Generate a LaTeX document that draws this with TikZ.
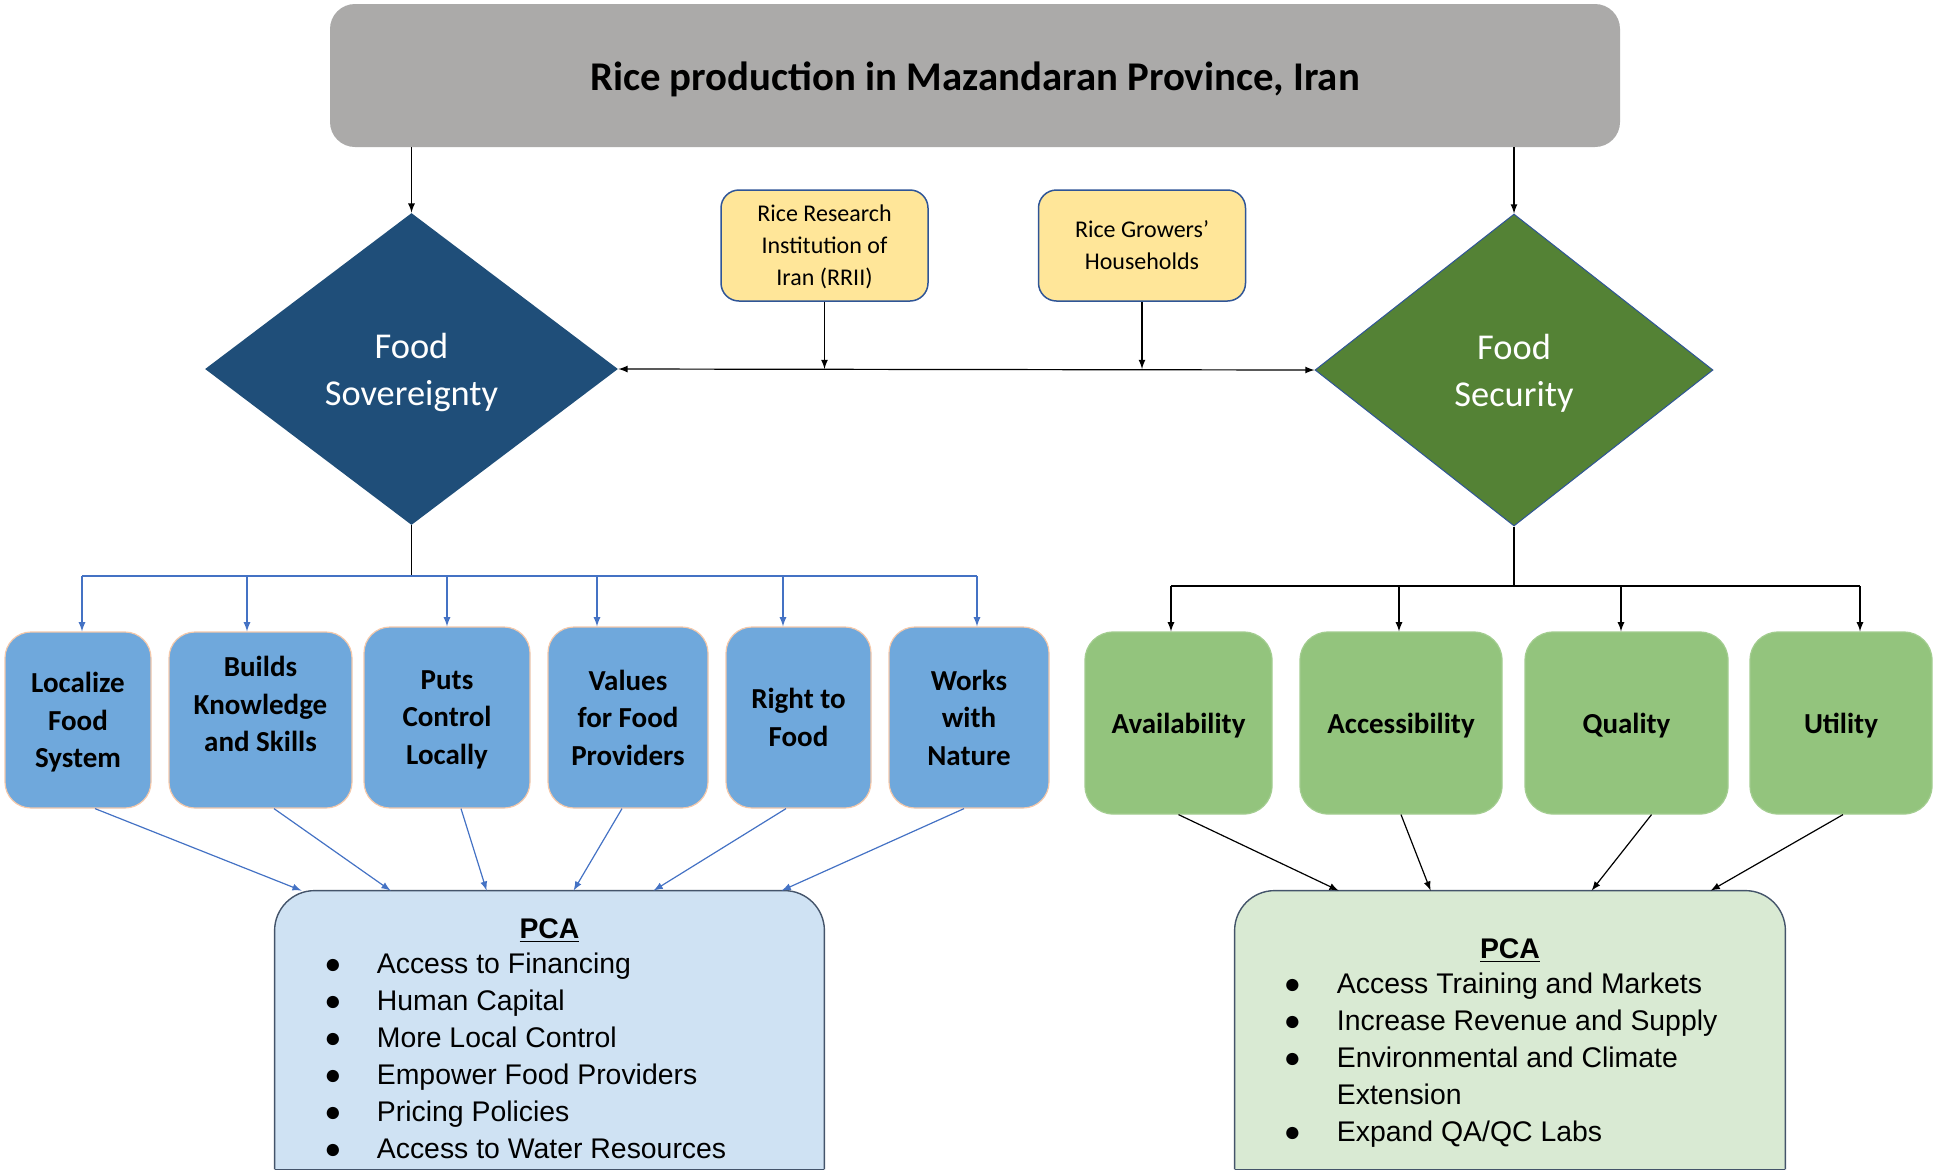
\documentclass[tikz,border=0pt]{standalone}
\usepackage{fontspec}
\setmainfont{Carlito}
\newfontfamily\arialfont{Liberation Sans}
\usepackage{tikz}
\usetikzlibrary{arrows,calc,shapes.geometric}
\tikzset{>=latex}
\definecolor{titlegray}{RGB}{171,170,169}
\definecolor{sovblue}{RGB}{31,78,121}
\definecolor{secgreen}{RGB}{84,130,53}
\definecolor{boxblue}{RGB}{111,168,220}
\definecolor{boxgreen}{RGB}{147,196,125}
\definecolor{peach}{RGB}{244,200,170}
\definecolor{ylw}{RGB}{255,230,153}
\definecolor{ylwedge}{RGB}{47,85,151}
\definecolor{pcablue}{RGB}{207,226,243}
\definecolor{pcagreen}{RGB}{217,234,211}
\definecolor{pcaedge}{RGB}{68,84,106}
\definecolor{linkblue}{RGB}{68,114,196}
\tikzset{
  titlebox/.style={fill=titlegray, rounded corners=12.5pt, minimum width=645pt, minimum height=71.5pt,
    text height=15pt, text depth=0pt, font=\fontsize{20.4}{24}\selectfont\bfseries},
  decision/.style={diamond, aspect=1.3, inner sep=0pt, align=center, text=white, text depth=0pt,
    font=\fontsize{18.2}{23.5}\selectfont},
  agent/.style={fill=ylw, draw=ylwedge, line width=0.75pt, rounded corners=9pt, align=center, text depth=0pt,
    minimum width=103.5pt, minimum height=55.5pt, font=\fontsize{12}{16}\selectfont},
  sovbox/.style={fill=boxblue, draw=peach, line width=0.6pt, rounded corners=13pt, align=center,
    inner sep=0pt, text depth=0pt, font=\fontsize{14.5}{18.7}\selectfont\bfseries},
  secbox/.style={fill=boxgreen, draw=boxgreen!85!white, line width=0.6pt, rounded corners=14pt,
    align=center, inner sep=0pt, text depth=0pt, minimum height=91pt, font=\fontsize{14.5}{18.7}\selectfont\bfseries},
  pcabox/.style={minimum width=274.5pt, minimum height=139pt, inner sep=0pt},
  pcatext/.style={font=\arialfont\fontsize{14.2}{18.5}\selectfont},
  stem/.style={line width=0.6pt},
  link/.style={->, line width=0.6pt},
  bluelink/.style={->, line width=0.6pt, draw=linkblue}
}

\begin{document}
\begin{tikzpicture}[x=0.5pt,y=-0.5pt]
    \useasboundingbox (0,0) rectangle (1936,1174);
    % top
    \node (title) at (975,75.5) [titlebox]{Rice production in Mazandaran Province, Iran};
    \node (fsov) at (411.5,369) [decision, fill=sovblue, minimum width=206.5pt, minimum height=156pt]{Food\\Sovereignty};
    \node (fsec) at (1514,370) [decision, fill=secgreen, draw=ylwedge, line width=0.5pt, minimum width=199pt, minimum height=156pt]{Food\\Security};
    \node (rrii) at (824.5,245.5) [agent]{Rice Research\\Institution of\\Iran (RRII)};
    \node (grow) at (1142,245.5) [agent]{Rice Growers’\\Households};
    \draw [link] (title.south -| fsov.north) -- (fsov.north);
    \draw [link] (title.south -| fsec.north) -- (fsec.north);
    \draw [link, <->] (fsov.east) -- (fsec.west);
    \draw [link] (rrii.south) -- (rrii.south |- fsov.east);
    \draw [link] (grow.south) -- (grow.south |- fsov.east);
    % food sovereignty side
    \node (loc) at (78,720) [sovbox, minimum width=73pt, minimum height=88pt]{Localize\\Food\\System};
    \node (kno) at (260.5,720) [sovbox, text depth=16pt, minimum width=91.5pt, minimum height=88pt]{Builds\\Knowledge\\and Skills};
    \node (put) at (447,717.5) [sovbox, minimum width=83pt, minimum height=90.5pt]{Puts\\Control\\Locally};
    \node (val) at (628,717.5) [sovbox, minimum width=80pt, minimum height=90.5pt]{Values\\for Food\\Providers};
    \node (rig) at (798.5,717.5) [sovbox, minimum width=72.5pt, minimum height=90.5pt]{Right to\\Food};
    \node (wor) at (969,717.5) [sovbox, minimum width=80pt, minimum height=90.5pt]{Works\\with\\Nature};
    \coordinate (sbus) at (411.5,576);
    \draw [stem] (fsov.south) -- (sbus);
    \foreach \n/\s in {loc/4, kno/-13.5, put/0, val/-31, rig/-15.5, wor/8} {
      \coordinate (t\n) at ($(\n.north)+(\s,0)$);
      \draw [bluelink] (t\n |- sbus) -- (t\n);
    }
    \draw [stem, linkblue] (tloc |- sbus) -- (twor |- sbus);
    \node (pcaL) at (549.5,1030) [pcabox]{};
    \filldraw [fill=pcablue, draw=pcaedge, line width=0.7pt, rounded corners=20pt] (pcaL.south west) -- (pcaL.north west) -- (pcaL.north east) -- (pcaL.south east);
    \draw [pcaedge, line width=0.7pt] (pcaL.south west) -- (pcaL.south east);
    \node (pcaLhead) at (549.5,938) [pcatext, anchor=base]{\textbf{\underline{PCA}}};
    \node (pcaLlist) at (324,973) [pcatext, anchor=base west, inner sep=0pt]{\begin{tabular}[t]{@{}p{26.25pt}@{}l@{}}
      ●&Access to Financing\\
      ●&Human Capital\\
      ●&More Local Control\\
      ●&Empower Food Providers\\
      ●&Pricing Policies\\
      ●&Access to Water Resources
    \end{tabular}};
    \foreach \n/\s/\e in {loc/17/27, kno/13.5/116, put/14/212, val/-6/299, rig/-12.5/379, wor/-5/507}
      \draw [bluelink] ($(\n.south)+(\s,0)$) -- ($(pcaL.north west)+(\e,0)$);
    % food security side
    \node (ava) at (1178.5,723) [secbox, minimum width=93.5pt]{Availability};
    \node (acc) at (1401,723) [secbox, minimum width=101pt]{Accessibility};
    \node (qua) at (1626.5,723) [secbox, minimum width=101.5pt]{Quality};
    \node (uti) at (1841,723) [secbox, minimum width=91pt]{Utility};
    \coordinate (gbus) at (1514,586);
    \draw [stem] (fsec.south) -- (gbus);
    \foreach \n/\s in {ava/-7.5, acc/-2, qua/-5.5, uti/19} {
      \coordinate (t\n) at ($(\n.north)+(\s,0)$);
      \draw [link] (t\n |- gbus) -- (t\n);
    }
    \draw [stem] (tava |- gbus) -- (tuti |- gbus);
    \node (pcaR) at (1510,1030) [pcabox, minimum width=275pt]{};
    \filldraw [fill=pcagreen, draw=pcaedge, line width=0.7pt, rounded corners=20pt] (pcaR.south west) -- (pcaR.north west) -- (pcaR.north east) -- (pcaR.south east);
    \draw [pcaedge, line width=0.7pt] (pcaR.south west) -- (pcaR.south east);
    \node (pcaRhead) at (1510,958) [pcatext, anchor=base]{\textbf{\underline{PCA}}};
    \node (pcaRlist) at (1283.5,993) [pcatext, anchor=base west, inner sep=0pt]{\begin{tabular}[t]{@{}p{26.5pt}@{}l@{}}
      ●&Access Training and Markets\\
      ●&Increase Revenue and Supply\\
      ●&Environmental and Climate\\
      &Extension\\
      ●&Expand QA/QC Labs
    \end{tabular}};
    \foreach \n/\s/\e in {ava/0/104, acc/0/196, qua/25/357, uti/2/476}
      \draw [link] ($(\n.south)+(\s,0)$) -- ($(pcaR.north west)+(\e,0)$);
  \end{tikzpicture}
\end{document}
